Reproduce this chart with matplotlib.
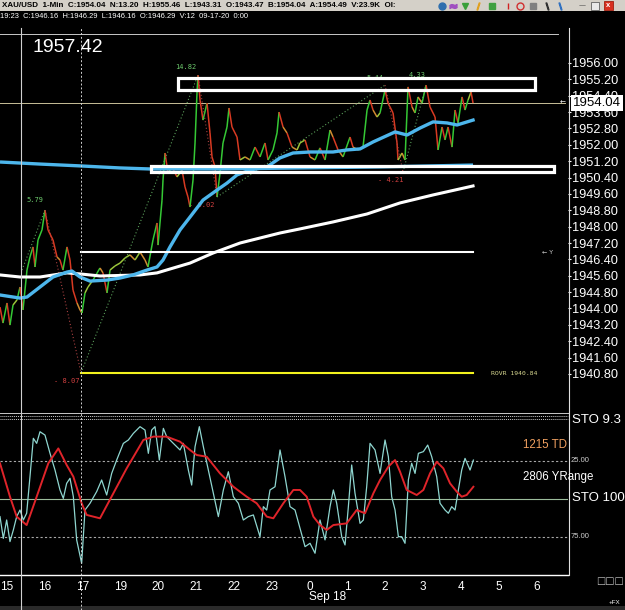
import matplotlib
matplotlib.use('Agg')
import matplotlib.pyplot as plt
import matplotlib.transforms as mtransforms
from matplotlib.collections import LineCollection
from matplotlib.lines import Line2D
from matplotlib.patches import Rectangle
import numpy as np

plt.rcParams['font.family'] = ['Liberation Sans', 'DejaVu Sans']

# time axis: hours counted from the "15" tick (bar-indexed, so 18 is skipped)
hour_labels = ['15', '16', '17', '19', '20', '21', '22', '23', '0', '1', '2', '3', '4', '5', '6']

# XAU/USD 1-min price path (hour, price)
price_t = [-0.185, -0.106, 0.0, 0.079, 0.159, 0.265, 0.344, 0.423, 0.529, 0.608,
           0.688, 0.741, 0.820, 0.926, 1.005, 1.085, 1.217, 1.323, 1.402, 1.481,
           1.587, 1.667, 1.746, 1.852, 1.931, 1.984, 2.063, 2.143, 2.275, 2.460,
           2.540, 2.646, 2.725, 2.857, 2.989, 3.122, 3.254, 3.386, 3.519, 3.651,
           3.730, 3.862, 3.968, 3.995, 4.101, 4.127, 4.180, 4.259, 4.365, 4.497,
           4.630, 4.709, 4.788, 4.841, 4.921, 4.974, 5.026, 5.053, 5.106, 5.185,
           5.291, 5.370, 5.423, 5.503, 5.556, 5.635, 5.714, 5.820, 5.873, 5.952,
           6.085, 6.164, 6.296, 6.429, 6.561, 6.693, 6.825, 6.905, 7.037, 7.143,
           7.196, 7.302, 7.407, 7.540, 7.672, 7.751, 7.884, 8.016, 8.148, 8.280,
           8.413, 8.545, 8.624, 8.757, 8.889, 9.074, 9.153, 9.286, 9.418, 9.524,
           9.603, 9.683, 9.788, 9.868, 10.000, 10.079, 10.212, 10.317, 10.344, 10.450,
           10.529, 10.608, 10.714, 10.794, 10.873, 10.979, 11.085, 11.190, 11.323, 11.402,
           11.508, 11.587, 11.667, 11.772, 11.852, 11.931, 12.037, 12.116, 12.196, 12.275,
           12.328]
price = [1944.07, 1943.29, 1944.27, 1943.19, 1944.17, 1944.42, 1945.05, 1943.93, 1945.88, 1946.52,
         1947.01, 1946.03, 1947.35, 1947.84, 1948.81, 1947.84, 1947.35, 1946.52, 1946.37, 1945.88,
         1947.01, 1946.37, 1944.90, 1944.27, 1943.93, 1943.78, 1944.76, 1945.05, 1945.39, 1945.98,
         1945.74, 1944.76, 1945.88, 1946.08, 1946.22, 1946.47, 1946.62, 1946.37, 1946.76, 1946.37,
         1946.03, 1947.35, 1948.18, 1947.10, 1949.30, 1950.28, 1951.60, 1950.62, 1950.92, 1950.43,
         1950.77, 1949.94, 1949.45, 1948.96, 1950.28, 1952.09, 1954.53, 1955.41, 1954.19, 1953.21,
         1954.04, 1952.58, 1951.41, 1950.92, 1949.45, 1950.62, 1952.09, 1952.87, 1953.80, 1952.87,
         1952.38, 1951.26, 1951.41, 1951.26, 1951.89, 1951.41, 1952.09, 1951.26, 1951.75, 1952.58,
         1953.60, 1952.87, 1952.58, 1951.89, 1951.75, 1952.09, 1952.24, 1951.41, 1951.26, 1951.85,
         1951.26, 1952.72, 1952.38, 1951.75, 1951.41, 1952.38, 1951.89, 1951.75, 1951.89, 1953.70,
         1954.19, 1953.70, 1953.36, 1953.56, 1954.68, 1954.04, 1953.56, 1952.09, 1951.26, 1951.60,
         1951.26, 1954.83, 1953.85, 1953.56, 1954.34, 1954.04, 1954.92, 1953.85, 1953.36, 1951.75,
         1952.87, 1952.24, 1952.87, 1951.89, 1953.70, 1953.07, 1954.34, 1953.70, 1954.19, 1954.58,
         1954.04]

# fast moving average (light blue)
fast_ma_t = [-0.185, 0.344, 0.529, 0.873, 1.217, 1.587, 1.720, 1.931, 2.196, 2.646,
             2.989, 3.333, 3.704, 3.968, 4.127, 4.312, 4.577, 4.841, 5.185, 5.556,
             5.820, 6.085, 6.429, 6.878, 7.222, 7.566, 8.016, 8.624, 8.995, 9.339,
             9.683, 10.265, 10.582, 10.926, 11.270, 11.640, 11.905, 12.328]
fast_ma = [1944.66, 1944.51, 1944.56, 1945.05, 1945.54, 1945.78, 1945.83, 1945.54, 1945.34, 1945.39,
           1945.49, 1945.64, 1945.88, 1946.03, 1946.37, 1947.01, 1947.84, 1948.47, 1949.30, 1949.79,
           1950.13, 1950.53, 1950.77, 1950.92, 1951.36, 1951.60, 1951.65, 1951.65, 1951.75, 1951.80,
           1952.14, 1952.63, 1952.48, 1952.82, 1953.12, 1953.07, 1952.97, 1953.21]

# slow moving average (light blue, nearly flat)
slow_ma_t = [-0.185, 0.873, 1.931, 2.989, 3.783, 5.635, 7.751, 9.868, 12.328]
slow_ma = [1951.16, 1951.06, 1950.97, 1950.87, 1950.82, 1950.82, 1950.87, 1950.92, 1951.01]

# long moving average (white)
white_ma_t = [-0.185, 0.344, 0.873, 1.587, 1.931, 2.460, 3.519, 3.968, 4.312, 4.841,
              5.450, 6.164, 7.222, 7.751, 8.624, 9.524, 10.397, 11.270, 12.328]
white_ma = [1945.64, 1945.54, 1945.54, 1945.74, 1945.69, 1945.59, 1945.64, 1945.74, 1945.93, 1946.22,
            1946.71, 1947.20, 1947.69, 1947.89, 1948.23, 1948.62, 1949.16, 1949.55, 1949.99]

# zigzag swings
zz_t = [0.397, 1.005, 1.958, 5.053, 5.556, 10.000, 10.476, 11.085]
zz_p = [1945.88, 1948.81, 1940.85, 1955.41, 1949.45, 1954.92, 1950.67, 1954.92]
zz_labels = ['', '5.79', '- 8.07', '14.82', '- 6.02', '5.44', '- 4.21', '4.33']

# stochastic (fast, cyan)
sto_t = [-0.185, -0.097, -0.009, 0.079, 0.168, 0.256, 0.344, 0.432, 0.520, 0.608,
         0.697, 0.785, 0.873, 1.005, 1.138, 1.270, 1.402, 1.490, 1.578, 1.667,
         1.755, 1.843, 1.975, 2.063, 2.196, 2.372, 2.504, 2.637, 2.769, 2.901,
         3.078, 3.210, 3.342, 3.519, 3.651, 3.739, 3.827, 3.915, 4.030, 4.136,
         4.224, 4.400, 4.577, 4.665, 4.797, 4.885, 4.974, 5.088, 5.194, 5.326,
         5.459, 5.591, 5.723, 5.855, 5.988, 6.120, 6.252, 6.384, 6.517, 6.693,
         6.781, 6.870, 6.958, 7.090, 7.222, 7.354, 7.487, 7.619, 7.751, 7.884,
         8.016, 8.148, 8.280, 8.413, 8.545, 8.633, 8.721, 8.854, 8.942, 9.030,
         9.118, 9.206, 9.339, 9.427, 9.515, 9.603, 9.735, 9.868, 10.000, 10.088,
         10.176, 10.265, 10.353, 10.441, 10.529, 10.617, 10.705, 10.794, 10.882, 11.014,
         11.129, 11.235, 11.367, 11.455, 11.587, 11.675, 11.764, 11.852, 11.940, 12.028,
         12.116, 12.249, 12.337]
sto_fast = [61.5, 75.7, 63.7, 77.8, 70.2, 61.5, 57.2, 63.7, 59.3, 35.4,
            10.4, 13.7, 6.1, 8.3, 20.2, 31.1, 44.1, 49.6, 39.8, 36.5,
            48.5, 76.7, 92.0, 57.2, 52.8, 45.2, 37.6, 47.4, 33.3, 24.6,
            13.7, 11.5, 7.2, 2.8, 5.0, 20.2, 5.0, 2.8, 24.6, 3.9,
            9.3, 13.7, 18.0, 13.7, 31.1, 40.9, 15.9, 2.8, 15.9, 31.1,
            46.3, 61.5, 44.1, 32.2, 48.5, 52.8, 63.7, 61.5, 60.4, 74.6,
            55.0, 57.2, 44.1, 42.0, 18.0, 35.4, 55.0, 57.2, 69.1, 81.1,
            78.9, 85.4, 63.7, 76.7, 55.0, 44.1, 52.8, 74.6, 80.0, 55.0,
            27.8, 46.3, 65.9, 63.7, 42.0, 13.7, 18.0, 33.3, 11.5, 22.4,
            48.5, 57.2, 74.6, 74.6, 78.9, 37.6, 26.7, 33.3, 20.2, 19.1,
            14.8, 22.4, 35.4, 52.8, 57.2, 59.3, 55.0, 57.2, 44.1, 31.1,
            23.5, 31.1, 24.6]

# stochastic signal (red)
sig_t = [-0.185, 0.079, 0.256, 0.520, 0.785, 1.093, 1.358, 1.578, 1.755, 1.975,
         2.108, 2.460, 2.813, 3.166, 3.607, 3.871, 4.224, 4.577, 4.841, 5.018,
         5.282, 5.635, 5.988, 6.340, 6.605, 6.870, 7.046, 7.310, 7.575, 7.751,
         7.928, 8.104, 8.280, 8.457, 8.633, 8.986, 9.250, 9.471, 9.691, 9.868,
         10.088, 10.265, 10.397, 10.573, 10.838, 11.014, 11.190, 11.367, 11.543, 11.720,
         11.896, 12.028, 12.160, 12.337]
sto_slow = [26.7, 48.5, 61.5, 67.0, 48.5, 26.7, 17.0, 27.8, 35.4, 52.8,
            60.4, 62.6, 46.3, 30.0, 11.5, 9.3, 9.3, 12.6, 18.0, 21.3,
            22.4, 33.3, 42.0, 48.5, 52.8, 61.5, 62.6, 52.8, 44.1, 44.1,
            48.5, 61.5, 67.0, 70.2, 67.0, 65.9, 57.2, 59.3, 46.3, 37.6,
            28.9, 24.6, 32.2, 44.1, 47.4, 44.1, 33.3, 25.7, 30.0, 39.8,
            45.2, 48.5, 47.4, 42.0]

# drawn objects
box_top = (4.52, 13.97, 1954.68, 1955.27)      # t0, t1, p0, p1
box_bottom = (3.82, 14.47, 1950.67, 1950.97)
level_white = 1946.76
level_rovr = 1940.84
level_t = (1.97, 12.33)
last_price = 1954.04
cross_price = 1957.42
cross_t = 0.37
session_t = 1.97

W, H = 625, 610


def fx(px):
    return px / W


def fy(py):
    return 1 - py / H


fig = plt.figure(figsize=(6.25, 6.10), dpi=100, facecolor='black')
ax = fig.add_axes([0, fy(411), fx(568), fy(28) - fy(411)], facecolor='black')
ax2 = fig.add_axes([0, fy(575), fx(568), fy(421) - fy(575)], facecolor='black', sharex=ax)

ax.set_xlim(-0.185, 14.84)
ax.set_ylim(1938.99, 1957.71)
ax2.set_ylim(99.6, -0.9)

# --- price panel ---
pts = np.column_stack([price_t, price])
segs = np.stack([pts[:-1], pts[1:]], axis=1)
diff = np.diff(price)
seg_cols = ['#35c835' if d > 0.45 else ('#d83a22' if d < -0.45 else
            ('#9ac43a' if d > 0 else '#d08a30')) for d in diff]
ax.add_collection(LineCollection(segs, colors=seg_cols, linewidths=1.1, zorder=2))

ax.plot(slow_ma_t, slow_ma, color='#4db6ec', lw=2.4, zorder=3, solid_capstyle='butt')
ax.plot(white_ma_t, white_ma, color='white', lw=2.2, zorder=3)
ax.plot(fast_ma_t, fast_ma, color='#4db6ec', lw=2.4, zorder=3.5)

# zigzag
for i in range(len(zz_t) - 1):
    up = zz_p[i + 1] > zz_p[i]
    ax.plot(zz_t[i:i + 2], zz_p[i:i + 2], color='#5a9e5a' if up else '#a84040',
            lw=0.8, ls=(0, (1, 2)), zorder=2.5)
label_offsets = [(0, 0), (-7, 7), (-1, -6), (-8.5, 6), (-2, -6), (-7, 5), (-9, -6), (-6.5, 7)]
label_ha = ['center', 'center', 'right', 'center', 'right', 'center', 'center', 'center']
for t, p, lab, off, ha in zip(zz_t, zz_p, zz_labels, label_offsets, label_ha):
    if lab:
        col = '#d04040' if lab.startswith('-') else '#6cc86c'
        ax.annotate(lab, (t, p), xytext=off, textcoords='offset points', ha=ha, va='center',
                    fontsize=5, color=col, family='DejaVu Sans Mono', zorder=1.5)

# boxes
for t0, t1, p0, p1 in (box_top, box_bottom):
    ax.add_patch(Rectangle((t0, p0), t1 - t0, p1 - p0, fill=False, ec='white', lw=2.3, zorder=4))

# level lines
ax.plot(level_t, [level_white] * 2, color='white', lw=1.5, zorder=4)
ax.plot(level_t, [level_rovr] * 2, color='#f2f21e', lw=1.5, zorder=4)
ax.text(12.8, level_rovr, 'ROVR %.2f' % level_rovr, fontsize=4.6, color='#d8d890',
        family='DejaVu Sans Mono', va='center', ha='left')

# crosshair + last price line
ax.axhline(cross_price, xmax=558 / 568, color='#c8c8c8', lw=0.7, zorder=1)
ax.axhline(last_price, xmax=565 / 568, color='#c8bf98', lw=0.7, zorder=1)
vtrans = mtransforms.blended_transform_factory(ax.transData, fig.transFigure)
fig.add_artist(Line2D([cross_t, cross_t], [fy(610), fy(28)], transform=vtrans,
                      color='#d0d0d0', lw=0.8))
fig.add_artist(Line2D([session_t, session_t], [fy(610), fy(28)], transform=vtrans,
                      color='#d0d0d0', lw=0.7, ls=(0, (2, 2))))

# price axis
ax.yaxis.tick_right()
yt = np.arange(1940.8, 1956.01, 0.8)
ax.set_yticks(yt)
ax.set_yticklabels(['%.2f' % v for v in yt])
ax.tick_params(axis='y', colors='white', labelsize=9.2, length=2.2, width=0.8, pad=1)
ax.tick_params(axis='x', bottom=False, labelbottom=False)
for s in ax.spines.values():
    s.set_visible(False)

# last price tag
ptrans = mtransforms.blended_transform_factory(ax.transAxes, ax.transData)
ax.text(1.0 + 5 / 568, last_price, '%.2f' % last_price, transform=ptrans, fontsize=9.5,
        color='black', va='center', ha='left', zorder=6,
        bbox=dict(boxstyle='square,pad=0.18', fc='white', ec='none'))
fig.text(fx(560), fy(103), '\u2190', fontsize=5, color='white', va='center', family='DejaVu Sans')
fig.text(fx(542), fy(252), '\u2190 Y', fontsize=4.5, color='#cfcfcf', va='center', family='DejaVu Sans')

fig.text(fx(33), fy(47), '1957.42', fontsize=14, color='white', va='center')

# --- stochastic panel ---
ax2.axhline(25, color='#a8a8a8', lw=0.8, ls=(0, (2, 2)))
ax2.axhline(75, color='#a8a8a8', lw=0.8, ls=(0, (2, 2)))
ax2.axhline(50, color='#9cbc9c', lw=0.8)
ax2.plot(sto_t, sto_fast, color='#8fd6d0', lw=0.9, zorder=3)
ax2.plot(sig_t, sto_slow, color='#e0242a', lw=1.4, zorder=3)

ax2.set_xticks(range(len(hour_labels)))
ax2.set_xticklabels(hour_labels)
ax2.tick_params(axis='x', colors='white', labelsize=8.5, length=0, pad=4)
ax2.tick_params(axis='y', left=False, labelleft=False)
for k, s in ax2.spines.items():
    s.set_visible(k in ('bottom',))
    s.set_color('white')
ax2.spines['bottom'].set_linewidth(1.0)

fig.text(fx(309), fy(597), 'Sep 18', fontsize=8.5, color='white', va='center', ha='left')
fig.text(fx(523), fy(445), '1215 TD', fontsize=8.3, color='#f0a060', va='center')
fig.text(fx(523), fy(477), '2806 YRange', fontsize=8.3, color='white', va='center')
fig.text(fx(572), fy(498), 'STO 100', fontsize=9.5, color='white', va='center')
fig.text(fx(572), fy(420), 'STO 9.3', fontsize=9.5, color='white', va='center')
fig.text(fx(571), fy(461), '25.00', fontsize=5.5, color='#d0d0d0', va='center')
fig.text(fx(571), fy(537), '75.00', fontsize=5.5, color='#d0d0d0', va='center')
fig.text(fx(596), fy(581), '\u25a1\u25a1\u25a1', fontsize=7, color='#bdbdbd', va='center',
         family='DejaVu Sans')
fig.text(fx(609), fy(603), '+FX', fontsize=4.5, color='white', va='center')

# panel separators and right axis line
for py, ls in ((412.5, '-'), (415.5, (0, (1, 1))), (418.5, (0, (1, 1)))):
    fig.add_artist(Line2D([0, fx(568)], [fy(py), fy(py)], transform=fig.transFigure,
                          color='#c8c8c8', lw=0.7, ls=ls))
fig.add_artist(Line2D([fx(568.5), fx(568.5)], [fy(28), fy(575)], transform=fig.transFigure,
                      color='#e0e0e0', lw=0.8))
fig.add_artist(Rectangle((0, fy(610)), 1, 4 / H, transform=fig.transFigure, fc='#2a2a2a',
                         ec='none'))

# --- title bars ---
fig.add_artist(Rectangle((0, fy(11)), 1, 11 / H, transform=fig.transFigure, fc='#d4d0c8',
                         ec='none'))
fig.text(fx(2), fy(5.5), 'XAU/USD  1-Min  C:1954.04  N:13.20  H:1955.46  L:1943.31  '
         'O:1943.47  B:1954.04  A:1954.49  V:23.9K  OI:', fontsize=5.75, weight='bold',
         color='black', va='center')
fig.text(fx(0), fy(16.5), '19:23  C:1946.16  H:1946.29  L:1946.16  O:1946.29  V:12  '
         '09-17-20  0:00', fontsize=5.45, color='white', va='center')

# toolbar icons
icons = [(442, 'o', '#2f6fae'), (453, '$\u2248$', '#a050c0'), (465, 'v', '#3aa03a'),
         (478, '$/$', '#e0a020'), (492, 's', '#40a040'), (508, '|', '#d02020'),
         (520, 'o', '#d03030'), (533, 's', '#808080'), (547, '$\\backslash$', '#303030'),
         (560, '$\\backslash$', '#3070c0')]
for px, m, c in icons:
    filled = m not in ('o',) or px == 442
    fig.add_artist(Line2D([fx(px)], [fy(5.5)], transform=fig.transFigure, marker=m,
                          ms=5, color=c, mfc=c if filled else 'none', mew=1, ls='none'))
fig.text(fx(579), fy(5.5), '\u2014', fontsize=5, color='#404040', va='center', family='DejaVu Sans')
fig.add_artist(Rectangle((fx(591), fy(9.5)), 8 / W, 8 / H, transform=fig.transFigure,
                         fc='#e8e8e8', ec='#606060', lw=0.6))
fig.add_artist(Rectangle((fx(604), fy(10)), 9 / W, 9 / H, transform=fig.transFigure,
                         fc='#d83020', ec='#a02010', lw=0.6))
fig.text(fx(608.5), fy(5.5), 'x', fontsize=5.5, color='white', weight='bold', va='center',
         ha='center')

fig.savefig('out.png', dpi=100, facecolor='black')
